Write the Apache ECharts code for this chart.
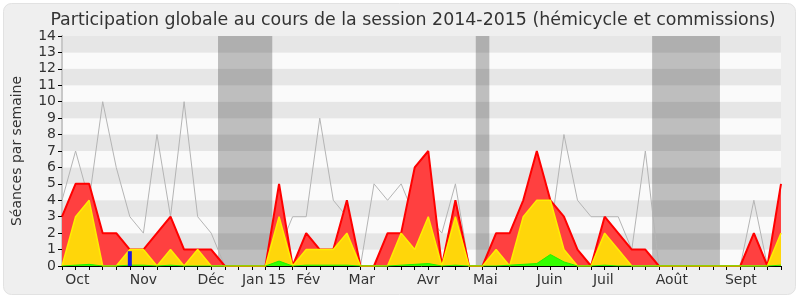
<!DOCTYPE html>
<html>
<head>
<meta charset="utf-8">
<script src="https://cdn.jsdelivr.net/npm/echarts@6/dist/echarts.min.js"></script>
<style>
html,body{margin:0;padding:0;background:#ffffff;}
#chart{width:800px;height:300px;}
</style>
</head>
<body>
<div id="chart"></div>
<script>
// Weekly values, session 2014-2015 (54 weeks, index = week number)
var presence = [3,5,5,2,2,1,1,2,3,1, 1,1,0,0,0,0,5,0,2,1, 1,4,0,0,2,2,6,7,0,4, 0,0,2,2,4,7,4,3,1,0, 3,2,1,1,0,0,0,0,0,0, 0,2,0,5];
var participation = [0,3,4,0,0,1,1,0,1,0, 1,0,0,0,0,0,3,0,1,1, 1,2,0,0,0,2,1,3,0,3, 0,0,1,0,3,4,4,1,0,0, 2,1,0,0,0,0,0,0,0,0, 0,0,0,2];
var greenValues = [0,0.05,0.1,0,0,0.05,0.05,0,0.05,0, 0,0,0,0,0,0,0.3,0,0.05,0.05, 0.05,0.05,0,0,0,0.05,0.1,0.15,0,0.05, 0,0,0,0.05,0.1,0.15,0.7,0.25,0,0, 0.05,0,0,0,0,0,0,0,0,0, 0,0,0,0.05];
var blueValues = [0,0,0,0,0,0.9,0,0,0,0, 0,0,0,0,0,0,0,0,0,0, 0,0,0,0,0,0,0,0,0,0, 0,0,0,0,0,0,0,0,0,0, 0,0,0,0,0,0,0,0,0,0, 0,0,0,0];
var median = [4,7,4,10,6,3,2,8,3,10, 3,2,0,0,0,0,1,3,3,9, 4,3,0,5,4,5,3,3,2,5, 0,0,1,1,3,4,2,8,4,3, 3,3,1,7,0,0,0,0,0,0, 0,4,0,2];
// Month labels and their position in weeks
var monthLabels = ['Oct','Nov','Déc','Jan 15','Fév','Mar','Avr','Mai','Juin','Juil','Août','Sept'];
var monthWeeks = [1.13, 6.0, 10.98, 14.88, 18.15, 22.1, 27.0, 31.2, 35.95, 39.9, 44.95, 50.04];
// Vacation periods (start week, end week)
var vacStart = [11.5, 30.5, 43.5];
var vacEnd = [15.5, 31.5, 48.5];
var yTicks = [0,1,2,3,4,5,6,7,8,9,10,11,12,13,14];

function pairs(arr){ return arr.map(function(v,i){ return [i,v]; }); }
var nWeeks = presence.length - 1;

var chart = echarts.init(document.getElementById('chart'), null, {renderer:'canvas'});
var font = 'DejaVu Sans';
var option = {
  animation:false,
  backgroundColor:'#ffffff',
  textStyle:{fontFamily:font},
  graphic:[{
    type:'rect', z:-10, silent:true,
    shape:{x:3.5,y:3.5,width:792,height:291,r:8},
    style:{fill:'#efefef', stroke:'#e2e2e2', lineWidth:1}
  }],
  title:{
    text:'Participation globale au cours de la session 2014-2015 (hémicycle et commissions)',
    left:408, top:7, textAlign:'center',
    textStyle:{fontFamily:font, fontSize:17.4, fontWeight:'normal', color:'#333333'}
  },
  grid:{left:62, right:19, top:36, bottom:34},
  xAxis:[{
    type:'value', min:0, max:nWeeks, interval:1, position:'bottom',
    axisLine:{show:true, onZero:false, lineStyle:{color:'#000000', width:1}},
    axisTick:{show:true, inside:false, length:4, lineStyle:{color:'#000000'}},
    axisLabel:{
      show:true, customValues:monthWeeks, color:'#333333', fontSize:14, fontFamily:font, margin:7,
      formatter:function(v){
        for (var k=0;k<monthWeeks.length;k++){ if (Math.abs(monthWeeks[k]-v)<1e-6) return monthLabels[k]; }
        return '';
      }
    },
    splitLine:{show:false}
  },{
    type:'value', min:0, max:nWeeks, interval:1, position:'top',
    axisLine:{show:false},
    axisTick:{show:true, inside:true, length:2, lineStyle:{color:'#000000'}},
    axisLabel:{show:false},
    splitLine:{show:false}
  }],
  yAxis:[{
    type:'value', min:yTicks[0], max:yTicks[yTicks.length-1], interval:1,
    name:'Séances par semaine', nameLocation:'middle', nameGap:38, nameRotate:90,
    nameTextStyle:{color:'#333333', fontSize:14, fontFamily:font},
    axisLine:{show:true, lineStyle:{color:'#000000'}},
    axisTick:{show:true, length:4, lineStyle:{color:'#000000'}},
    axisLabel:{color:'#333333', fontSize:14, fontFamily:font, margin:6},
    splitLine:{show:false},
    splitArea:{show:true, areaStyle:{color:['#fafafa','#e6e6e6']}}
  },{
    type:'value', min:0, max:14, interval:1, position:'right',
    axisLine:{show:true, lineStyle:{color:'#c8c8c8', width:2}},
    axisTick:{show:false}, axisLabel:{show:false}, splitLine:{show:false}
  }],
  series:[
    {
      type:'line', name:'median', data:pairs(median), showSymbol:false, z:2,
      lineStyle:{color:'#b4b4b4', width:1},
      markArea:{silent:true, itemStyle:{color:'rgba(0,0,0,0.24)'},
        data: vacStart.map(function(s,k){ return [{xAxis:s},{xAxis:vacEnd[k]}]; })}
    },
    {
      type:'line', name:'presence', data:pairs(presence), showSymbol:false, z:3,
      lineStyle:{color:'#ff0000', width:2},
      areaStyle:{color:'#ff4040', opacity:1}
    },
    {
      type:'line', name:'participation', data:pairs(participation), showSymbol:false, z:4,
      lineStyle:{color:'#ffee00', width:1.5},
      areaStyle:{color:'#ffd60a', opacity:1}
    },
    {
      type:'line', name:'green', data:pairs(greenValues), showSymbol:false, z:5,
      lineStyle:{color:'#22ee00', width:1},
      areaStyle:{color:'#33ff00', opacity:1}
    },
    {
      type:'bar', name:'blue', data:pairs(blueValues), barWidth:4, z:6,
      itemStyle:{color:'#1a1adf'}
    }
  ]
};
chart.setOption(option);
</script>
</body>
</html>
